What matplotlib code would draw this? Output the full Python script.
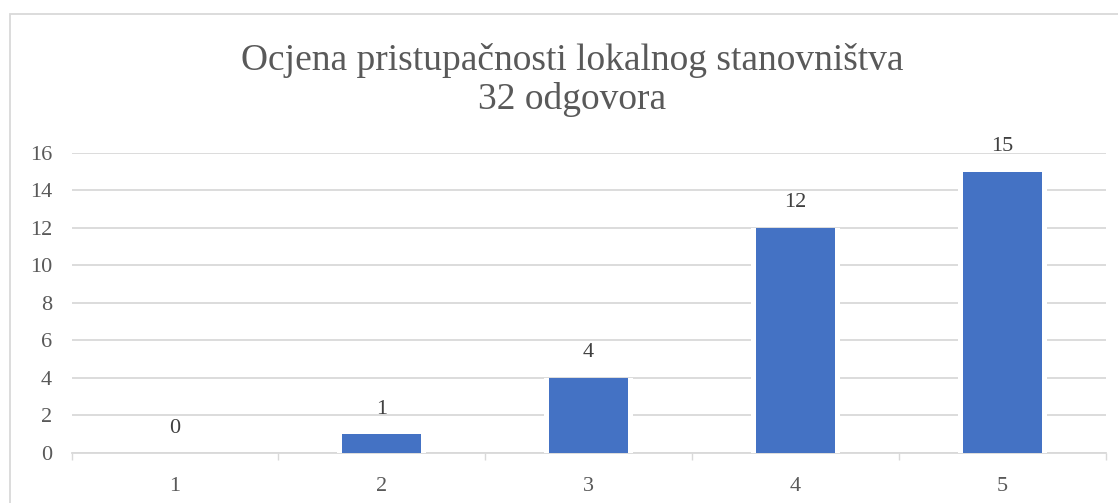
import numpy as np
import matplotlib.pyplot as plt
from matplotlib.patches import Rectangle

plt.rcParams['font.family'] = ['Liberation Serif', 'DejaVu Serif']

# ratings and number of answers
ratings = ['1', '2', '3', '4', '5']
counts = [0, 1, 4, 12, 15]
title = 'Ocjena pristupačnosti lokalnog stanovništva\n32 odgovora'

blue = '#4472C4'
grid = '#D9D9D9'

fig = plt.figure(figsize=(11.18, 5.03), dpi=100)
ax = fig.add_axes([0.064, 0.0994, 0.925, 0.5966])

x = np.arange(len(ratings))
# white halo behind bars cuts the gridlines like in the original
ax.bar(x, counts, width=0.43, color='white', zorder=2)
ax.bar(x, counts, width=0.382, color=blue, zorder=3)

for xi, v in zip(x, counts):
    ax.annotate(str(v), (xi, v), xytext=(0, 18), textcoords='offset points',
                ha='center', va='center', fontsize=16, color='#404040')

ax.set_xlim(-0.5, len(ratings) - 0.5)
ax.set_ylim(0, 16)
ax.set_yticks(range(0, 17, 2))
ax.set_xticks(x)
ax.set_xticklabels(ratings)
ax.set_xticks(np.arange(-0.5, len(ratings)), minor=True)
ax.tick_params(axis='x', which='major', length=0, pad=17, labelsize=16, labelcolor='#595959')
ax.tick_params(axis='x', which='minor', length=5, width=1, color=grid)
ax.tick_params(axis='y', length=0, pad=14, labelsize=16, labelcolor='#595959')
ax.yaxis.grid(True, color=grid, linewidth=1.3, zorder=0)
ax.set_axisbelow(True)
for s in ['top', 'right', 'left']:
    ax.spines[s].set_visible(False)
ax.spines['bottom'].set_color(grid)
ax.spines['bottom'].set_linewidth(1.3)
ax.spines['bottom'].set_zorder(1)

fig.text(0.512, 0.841, title, ha='center', va='center', fontsize=27,
         color='#595959', linespacing=1.17)

# chart border
fig.patches.append(Rectangle((10 / 1118, -0.1), 1.1, 1.1 - 14 / 503,
                             transform=fig.transFigure, fill=False,
                             edgecolor=grid, linewidth=1.3))

fig.savefig('out.png', dpi=100)
